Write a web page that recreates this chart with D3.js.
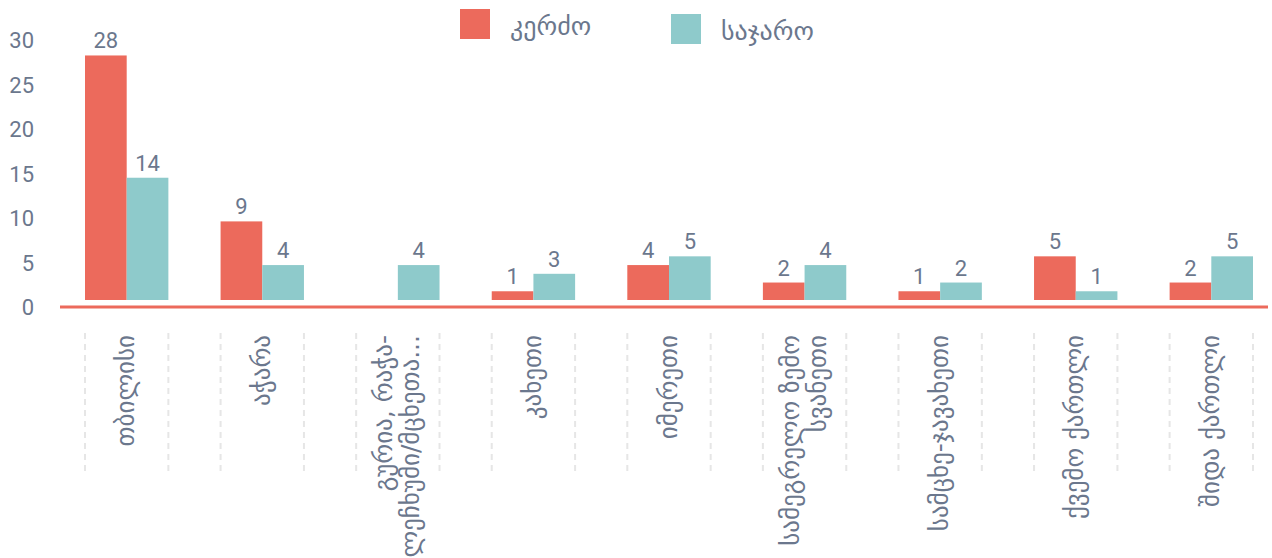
<!DOCTYPE html>
<html>
<head>
<meta charset="utf-8">
<script src="https://cdn.jsdelivr.net/npm/d3@7/dist/d3.min.js"></script>
<style>
  html, body { margin: 0; padding: 0; background: #ffffff; }
  svg { display: block; }
  text { font-family: Roboto, "DejaVu Sans", sans-serif; fill: #6b778d; }
  text.ka { font-family: "DejaVu Sans", sans-serif; }
</style>
</head>
<body>
<svg id="chart" width="1272" height="558"></svg>
<script>
// ---- data ----
const categories = [
  "თბილისი",
  "აჭარა",
  "გურია, რაჭა-\nლეჩხუმი/მცხეთა...",
  "კახეთი",
  "იმერეთი",
  "სამეგრელო ზემო\nსვანეთი",
  "სამცხე-ჯავახეთი",
  "ქვემო ქართლი",
  "შიდა ქართლი"
];
const seriesNames = ["კერძო", "საჯარო"];
const privateValues = [28, 9, null, 1, 4, 2, 1, 5, 2];
const publicValues  = [14, 4, 4, 3, 5, 4, 2, 1, 5];
const yTicks = [0, 5, 10, 15, 20, 25, 30];
const colors = ["#ec6a5c", "#8ecacb"];

// ---- layout ----
const svg = d3.select("#chart");
const y = d3.scaleLinear().domain([0, 30]).range([307, 40]);
const yBar = d3.scaleLinear().domain([0, 30]).range([300, 38]);
const x = d3.scaleBand().domain(categories).range([85, 1253]).paddingInner(0.385).paddingOuter(0);
const xs = d3.scaleBand().domain([0, 1]).range([0, x.bandwidth()]);

// y axis labels
const yAxis = d3.axisLeft(y).tickValues(yTicks).tickSize(0).tickPadding(0);
const gy = svg.append("g").attr("transform", "translate(34,0)").call(yAxis);
gy.select(".domain").remove();
gy.selectAll("text").style("font-size", "22px").attr("fill", "#6b778d").attr("dy", "0.36em");

// bars
const series = [privateValues, publicValues];
series.forEach((vals, si) => {
  const g = svg.append("g");
  const data = categories.map((c, i) => ({ c, v: vals[i] })).filter(d => d.v != null);
  g.selectAll("rect").data(data).join("rect")
    .attr("x", d => x(d.c) + xs(si))
    .attr("width", xs.bandwidth())
    .attr("y", d => yBar(d.v))
    .attr("height", d => yBar(0) - yBar(d.v))
    .attr("fill", colors[si]);
  g.selectAll("text").data(data).join("text")
    .attr("x", d => x(d.c) + xs(si) + xs.bandwidth() / 2)
    .attr("y", d => yBar(d.v) - 7)
    .attr("text-anchor", "middle")
    .style("font-size", "22px")
    .text(d => d.v);
});

// baseline
svg.append("line")
  .attr("x1", 60).attr("x2", 1268)
  .attr("y1", y(0)).attr("y2", y(0))
  .attr("stroke", colors[0]).attr("stroke-width", 3);

// dashed separators
const edges = [];
categories.forEach(c => { edges.push(x(c)); edges.push(x(c) + x.bandwidth()); });
svg.append("g").selectAll("line").data(edges).join("line")
  .attr("x1", d => d).attr("x2", d => d)
  .attr("y1", 333).attr("y2", 472)
  .attr("stroke", "#e6e6e6").attr("stroke-width", 2)
  .attr("stroke-dasharray", "6,5");

// x labels (rotated)
const lab = svg.append("g").selectAll("text").data(categories).join("text")
  .attr("class", "ka")
  .attr("transform", c => `translate(${x(c) + x.bandwidth() / 2},335) rotate(-90)`)
  .attr("text-anchor", "end")
  .style("font-size", "25px");
lab.each(function(c) {
  const lines = c.split("\n");
  const t = d3.select(this);
  const lh = 27;
  lines.forEach((ln, i) => {
    t.append("tspan")
      .attr("x", 0)
      .attr("y", (i - (lines.length - 1) / 2) * lh)
      .attr("dy", "0.3em")
      .text(ln);
  });
});

// legend
const legend = [
  { name: seriesNames[0], color: colors[0], x: 460, y: 9 },
  { name: seriesNames[1], color: colors[1], x: 671, y: 14 }
];
const lg = svg.append("g").selectAll("g").data(legend).join("g")
  .attr("transform", d => `translate(${d.x},${d.y})`);
lg.append("rect").attr("width", 30).attr("height", 30).attr("fill", d => d.color);
lg.append("text").attr("class", "ka").attr("x", 50).attr("y", 26).style("font-size", "26px").text(d => d.name);
</script>
</body>
</html>
